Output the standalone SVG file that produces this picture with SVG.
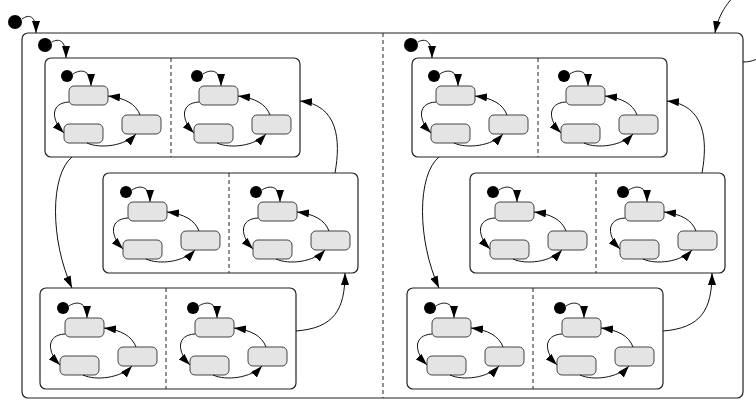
<svg xmlns="http://www.w3.org/2000/svg" xmlns:xlink="http://www.w3.org/1999/xlink" width="756" height="404" viewBox="0 0 756 404">
<style>
.box{fill:#fff;stroke:#222;stroke-width:1.2}
.div{stroke:#222;stroke-width:1;stroke-dasharray:4,3;fill:none}
.st{fill:#e4e4e4;stroke:#444;stroke-width:1}
.ini{fill:#000}
.e{fill:none;stroke:#111;stroke-width:1;marker-end:url(#ah)}
</style>
<defs>
<marker id="ah" markerUnits="userSpaceOnUse" markerWidth="12" markerHeight="8" viewBox="0 0 12 8" refX="12" refY="4" orient="auto">
<path d="M0,0 L12,4 L0,8 z" fill="#000"/>
</marker>
<g id="region">
<circle class="ini" cx="22" cy="18" r="6"/>
<path class="e" d="M28,16 C35,11 46,11 46,28"/>
<rect class="st" x="24" y="28" width="39" height="19" rx="5"/>
<rect class="st" x="19" y="66" width="39" height="19" rx="5"/>
<rect class="st" x="77" y="57" width="39" height="19" rx="5"/>
<path class="e" d="M24,44 C5,45 6,62 19,75"/>
<path class="e" d="M42,85 C55,91 80,88 91,76"/>
<path class="e" d="M95,57 C91,46 80,40 63,38"/>
</g>
</defs>

<g id="top">
<circle id="top-init" class="ini" cx="15" cy="22" r="7"/>
<g id="outer">
<rect class="box" x="22" y="33" width="721" height="365" rx="6"/>
<line class="div" x1="383" y1="33" x2="383" y2="398"/>
<circle id="outer-init-L" class="ini" cx="45" cy="45" r="7"/>
<circle id="outer-init-R" class="ini" cx="411" cy="45" r="7"/>
</g>

<g id="A">
<rect class="box" x="45" y="58" width="255" height="99" rx="6"/>
<line class="div" x1="171" y1="58" x2="171" y2="157"/>
<use id="A-L" xlink:href="#region" href="#region" transform="translate(45,58)"/>
<use id="A-R" xlink:href="#region" href="#region" transform="translate(175,58)"/>
</g>
<g id="B">
<rect class="box" x="103" y="173" width="255" height="100" rx="6"/>
<line class="div" x1="229" y1="173" x2="229" y2="273"/>
<use id="B-L" xlink:href="#region" href="#region" transform="translate(104,174)"/>
<use id="B-R" xlink:href="#region" href="#region" transform="translate(234,174)"/>
</g>
<g id="C">
<rect class="box" x="40" y="288" width="256" height="101" rx="6"/>
<line class="div" x1="166" y1="288" x2="166" y2="389"/>
<use id="C-L" xlink:href="#region" href="#region" transform="translate(41,290)"/>
<use id="C-R" xlink:href="#region" href="#region" transform="translate(171,290)"/>
</g>
<g id="D">
<rect class="box" x="412" y="58" width="255" height="99" rx="6"/>
<line class="div" x1="538" y1="58" x2="538" y2="157"/>
<use id="D-L" xlink:href="#region" href="#region" transform="translate(412,58)"/>
<use id="D-R" xlink:href="#region" href="#region" transform="translate(542,58)"/>
</g>
<g id="E">
<rect class="box" x="470" y="173" width="255" height="100" rx="6"/>
<line class="div" x1="596" y1="173" x2="596" y2="273"/>
<use id="E-L" xlink:href="#region" href="#region" transform="translate(471,174)"/>
<use id="E-R" xlink:href="#region" href="#region" transform="translate(601,174)"/>
</g>
<g id="F">
<rect class="box" x="407" y="288" width="256" height="101" rx="6"/>
<line class="div" x1="533" y1="288" x2="533" y2="389"/>
<use id="F-L" xlink:href="#region" href="#region" transform="translate(408,290)"/>
<use id="F-R" xlink:href="#region" href="#region" transform="translate(538,290)"/>
</g>
</g>

<g id="connectors">
<path class="e" d="M22,19 C29,14 36,15 36,33"/>
<path class="e" d="M52,42 C59,38 66,40 66,58"/>
<path class="e" d="M418,42 C425,38 432,40 432,58"/>
<path class="e" d="M743,62 C790,62 775,-20 745,-10 C730,-5 718,15 715,33"/>
<path class="e" d="M72,157 C50,175 50,240 72,288"/>
<path class="e" d="M296,331 C334,328 345,310 345,273"/>
<path class="e" d="M335,173 C341,140 338,105 300,101"/>
<path class="e" d="M439,157 C417,175 417,240 439,288"/>
<path class="e" d="M663,331 C701,328 712,310 712,273"/>
<path class="e" d="M702,173 C708,140 705,105 667,101"/>
</g>
</svg>
